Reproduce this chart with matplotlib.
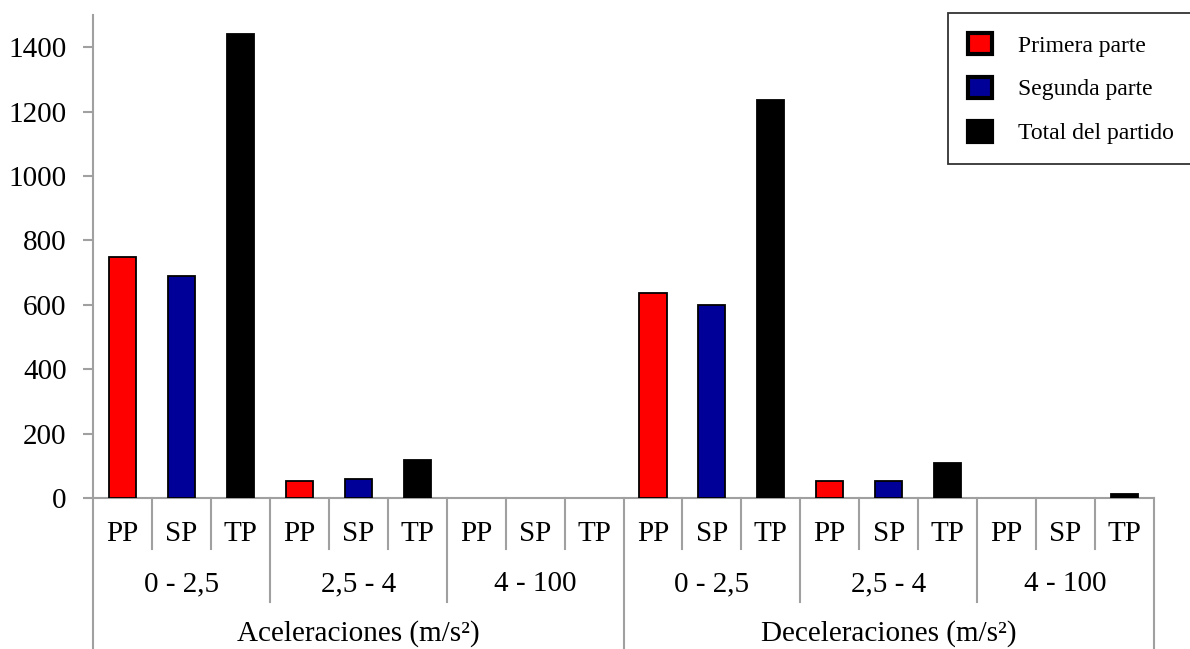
import numpy as np
import matplotlib
matplotlib.use("Agg")
import matplotlib.pyplot as plt
from matplotlib.transforms import blended_transform_factory
from matplotlib.patches import Patch

plt.rcParams['font.family'] = ['Liberation Serif', 'DejaVu Serif']

# data
series = ["Primera parte", "Segunda parte", "Total del partido"]
short = ["PP", "SP", "TP"]
ranges = ["0 - 2,5", "2,5 - 4", "4 - 100"]
groups = ["Aceleraciones (m/s²)", "Deceleraciones (m/s²)"]
values = [748, 688, 1442,  53, 59, 118,  0, 0, 0,
          636, 598, 1237,  53, 53, 108,  0, 0, 12]
colors = ["#ff0000", "#000099", "#000000"]
yticks = [0, 200, 400, 600, 800, 1000, 1200, 1400]

fig = plt.figure(figsize=(11.9, 6.49), dpi=100)
ax = fig.add_axes([93/1190, 1-498/649, (1154-93)/1190, 483/649])

n = len(values)
x = np.arange(n)
bar_colors = [colors[i % 3] for i in range(n)]
lws = [1.3 if v > 0 else 0 for v in values]
ax.bar(x, values, width=0.46, color=bar_colors, edgecolor="black", linewidth=lws, zorder=3)

fs = 21
grey = "#a0a0a0"
ax.set_xlim(-0.5, n - 0.5)
ax.set_ylim(0, 1500)
ax.set_yticks(yticks)
ax.set_yticklabels([str(t) for t in yticks], fontsize=fs)
ax.tick_params(axis="y", direction="out", length=7, color=grey, width=1.5, pad=12)
ax.set_xticks([])
for s in ["top", "right"]:
    ax.spines[s].set_visible(False)
for s in ["left", "bottom"]:
    ax.spines[s].set_color(grey)
    ax.spines[s].set_linewidth(1.5)

# multi-level category axis
tr = blended_transform_factory(ax.transData, fig.transFigure)
def fy(py):
    return 1 - py / 649

for i in range(n + 1):
    xb = i - 0.5
    if i % 9 == 0:
        y_end = 649
    elif i % 3 == 0:
        y_end = 602
    else:
        y_end = 549
    ax.plot([xb, xb], [fy(498), fy(y_end)], color=grey, lw=1.5,
            transform=tr, clip_on=False)

for i in range(n):
    ax.text(i, fy(534), short[i % 3], transform=tr, ha="center", va="center", fontsize=fs)
for j in range(6):
    ax.text(3 * j + 1, fy(584), ranges[j % 3], transform=tr, ha="center", va="center", fontsize=fs)
for k in range(2):
    ax.text(9 * k + 4, fy(634), groups[k], transform=tr, ha="center", va="center", fontsize=fs)

handles = [Patch(facecolor=c, edgecolor="black", linewidth=3) for c in colors]
leg = fig.legend(handles, series, loc="upper left", bbox_to_anchor=(948/1190, 1-13/649),
                 fontsize=17, frameon=True, fancybox=False, edgecolor="black",
                 handlelength=1.0, handleheight=1.0, handletextpad=1.1,
                 labelspacing=0.85, borderpad=0.85, borderaxespad=0)
leg.get_frame().set_linewidth(1.3)

fig.savefig("out.png", dpi=100)
